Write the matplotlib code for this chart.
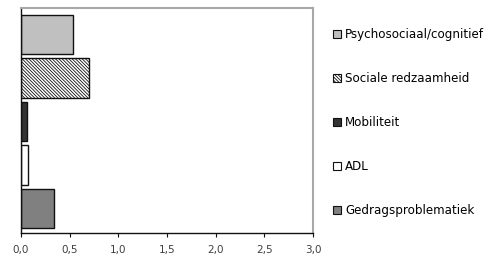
import matplotlib
matplotlib.use("Agg")
import matplotlib.pyplot as plt
from matplotlib.patches import Patch
import numpy as np

# categories from bottom to top
categories = ["Gedragsproblematiek", "ADL", "Mobiliteit", "Sociale redzaamheid", "Psychosociaal/cognitief"]
values = [0.34, 0.07, 0.06, 0.70, 0.53]
colors = ["#808080", "#ffffff", "#333333", "#ffffff", "#c0c0c0"]
hatches = ["", "", "", "\\" * 10, ""]
xticks = [0.0, 0.5, 1.0, 1.5, 2.0, 2.5, 3.0]
xticklabels = ["0,0", "0,5", "1,0", "1,5", "2,0", "2,5", "3,0"]

plt.rcParams["hatch.color"] = "#9a9a9a"
plt.rcParams["hatch.linewidth"] = 0.6

fig = plt.figure(figsize=(4.96, 2.56), dpi=100)
ax = fig.add_axes([21 / 496, 23 / 256, 292 / 496, 225 / 256])

y = np.arange(len(categories))
bars = ax.barh(y, values, height=0.9, color=colors, edgecolor="#111111", linewidth=1.0)
for b, h in zip(bars, hatches):
    b.set_hatch(h)

ax.set_xlim(0, 3.0)
ax.set_ylim(-0.563, 4.609)
ax.set_xticks(xticks)
ax.set_xticklabels(xticklabels)
ax.set_yticks([])
ax.tick_params(axis="x", direction="out", length=3, width=0.8, pad=6,
               labelsize=7.5, labelcolor="#404040", color="#111111")

ax.spines["left"].set_color("#111111")
ax.spines["bottom"].set_color("#111111")
ax.spines["left"].set_linewidth(1.0)
ax.spines["bottom"].set_linewidth(1.0)
for s in ["top", "right"]:
    ax.spines[s].set_color("#a8a8a8")
    ax.spines[s].set_linewidth(1.5)

handles = [Patch(facecolor=c, edgecolor="#111111", hatch=h, linewidth=0.8, label=l)
           for l, c, h in zip(categories, colors, hatches)][::-1]
fig.legend(handles=handles, loc="upper left", bbox_to_anchor=(333 / 496, 1 - 28 / 256),
           frameon=False, fontsize=8.6, labelspacing=2.6, handlelength=0.65,
           handleheight=0.65, handletextpad=0.35, borderaxespad=0, borderpad=0)

fig.savefig("out.png", dpi=100)
